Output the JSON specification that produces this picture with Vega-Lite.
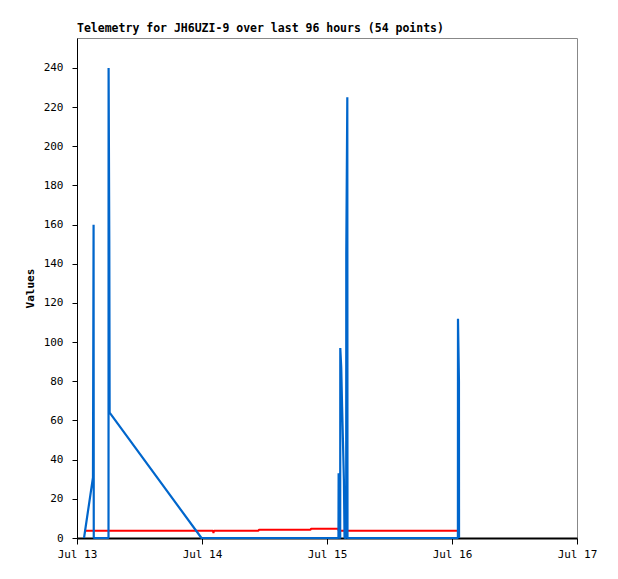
{
  "$schema": "https://vega.github.io/schema/vega-lite/v6.json",
  "width": 500,
  "height": 500,
  "autosize": {"type": "none"},
  "padding": {"left": 77, "top": 38, "right": 41, "bottom": 41},
  "background": "white",
  "title": {
    "text": "Telemetry for JH6UZI-9 over last 96 hours (54 points)",
    "anchor": "start",
    "frame": "group",
    "font": "DejaVu Sans Mono",
    "fontSize": 11.5,
    "fontWeight": "bold",
    "color": "black",
    "offset": 4
  },
  "config": {
    "view": {"stroke": "#888888", "strokeWidth": 1},
    "axis": {
      "grid": false,
      "domainColor": "black",
      "tickColor": "black",
      "labelColor": "black",
      "labelFont": "DejaVu Sans Mono",
      "labelFontSize": 11,
      "titleFont": "DejaVu Sans Mono",
      "titleFontSize": 11,
      "titleFontWeight": "bold",
      "titleColor": "black"
    }
  },
  "data": {
    "values": [
      {"t": "2024-07-13T01:21:00Z", "blue": 0, "red": 3.7},
      {"t": "2024-07-13T03:04:00Z", "blue": 31, "red": 3.7},
      {"t": "2024-07-13T03:11:00Z", "blue": 160, "red": 3.7},
      {"t": "2024-07-13T03:13:00Z", "blue": 0, "red": 3.7},
      {"t": "2024-07-13T06:03:00Z", "blue": 0, "red": 3.7},
      {"t": "2024-07-13T06:04:00Z", "blue": 240, "red": 3.7},
      {"t": "2024-07-13T06:12:00Z", "blue": 152, "red": 3.7},
      {"t": "2024-07-13T06:16:00Z", "blue": 64, "red": 3.7},
      {"t": "2024-07-13T23:54:00Z", "blue": 0, "red": 3.7},
      {"t": "2024-07-14T02:06:00Z", "blue": 0, "red": 3.7},
      {"t": "2024-07-14T02:12:00Z", "blue": 0, "red": 2.5},
      {"t": "2024-07-14T02:18:00Z", "blue": 0, "red": 3.7},
      {"t": "2024-07-14T10:50:00Z", "blue": 0, "red": 3.7},
      {"t": "2024-07-14T10:56:00Z", "blue": 0, "red": 4.2},
      {"t": "2024-07-14T20:50:00Z", "blue": 0, "red": 4.2},
      {"t": "2024-07-14T20:56:00Z", "blue": 0, "red": 4.7},
      {"t": "2024-07-15T02:12:00Z", "blue": 0, "red": 4.7},
      {"t": "2024-07-15T02:14:00Z", "blue": 33, "red": 3.7},
      {"t": "2024-07-15T02:25:00Z", "blue": 0, "red": 3.7},
      {"t": "2024-07-15T02:32:00Z", "blue": 0, "red": 3.7},
      {"t": "2024-07-15T02:33:00Z", "blue": 97, "red": 3.7},
      {"t": "2024-07-15T02:44:00Z", "blue": 87, "red": 3.7},
      {"t": "2024-07-15T02:54:00Z", "blue": 67, "red": 3.7},
      {"t": "2024-07-15T03:04:00Z", "blue": 49, "red": 3.7},
      {"t": "2024-07-15T03:15:00Z", "blue": 29, "red": 3.7},
      {"t": "2024-07-15T03:22:00Z", "blue": 0, "red": 3.7},
      {"t": "2024-07-15T03:41:00Z", "blue": 0, "red": 3.7},
      {"t": "2024-07-15T03:42:00Z", "blue": 145, "red": 3.7},
      {"t": "2024-07-15T03:54:00Z", "blue": 225, "red": 3.7},
      {"t": "2024-07-15T03:56:00Z", "blue": 0, "red": 3.7},
      {"t": "2024-07-16T01:08:00Z", "blue": 0, "red": 3.7},
      {"t": "2024-07-16T01:09:00Z", "blue": 112, "red": 3.7},
      {"t": "2024-07-16T01:20:00Z", "blue": 80, "red": 3.7},
      {"t": "2024-07-16T01:21:00Z", "blue": 0, "red": 3.7}
    ]
  },
  "encoding": {
    "x": {
      "field": "t",
      "type": "temporal",
      "scale": {
        "type": "utc",
        "domain": ["2024-07-13T00:00:00Z", "2024-07-17T00:00:00Z"],
        "nice": false
      },
      "axis": {
        "title": null,
        "format": "%b %d",
        "tickCount": {"interval": "day", "step": 1},
        "tickSize": 6,
        "domainWidth": 2,
        "labelPadding": 4,
        "labelFlush": false,
        "labelOverlap": false
      }
    }
  },
  "layer": [
    {
      "mark": {"type": "line", "color": "#ff0000", "strokeWidth": 2, "strokeJoin": "bevel"},
      "encoding": {
        "y": {
          "field": "red",
          "type": "quantitative",
          "scale": {"domain": [0, 255.3], "nice": false, "zero": true},
          "axis": {
            "title": "Values",
            "values": [0, 20, 40, 60, 80, 100, 120, 140, 160, 180, 200, 220, 240],
            "tickSize": 5,
            "labelPadding": 9,
            "titlePadding": 8
          }
        }
      }
    },
    {
      "mark": {"type": "line", "color": "#0066cc", "strokeWidth": 2.2, "strokeJoin": "bevel"},
      "encoding": {
        "y": {"field": "blue", "type": "quantitative"}
      }
    }
  ]
}
